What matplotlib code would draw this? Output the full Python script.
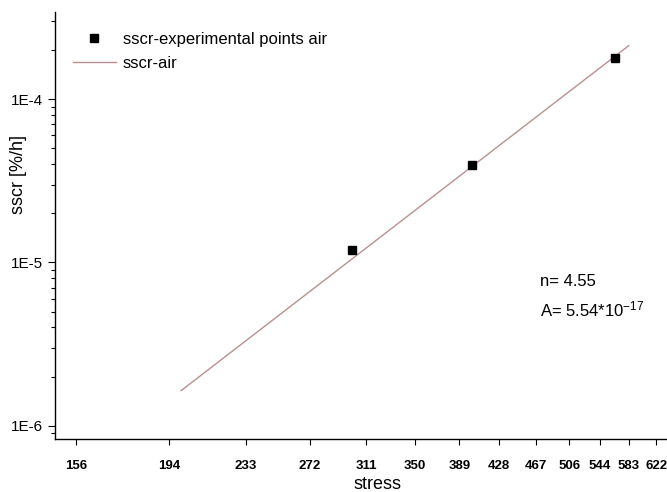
import matplotlib
matplotlib.use("Agg")
import matplotlib.pyplot as plt
import matplotlib.ticker as mticker
import numpy as np

plt.rcParams['font.family'] = ['Liberation Sans', 'DejaVu Sans']
plt.rcParams['mathtext.default'] = 'regular'

# measured points (stress, secondary creep rate)
exp_stress = [301, 401, 564]
exp_sscr = [1.2e-5, 3.98e-5, 1.8e-4]

# fitted power law line, end points
fit_stress = [200, 583]
fit_sscr = [1.64e-6, 2.13e-4]

# x tick values (stress axis)
xtick_vals = [155.6, 194.4, 233.3, 272.2, 311.1, 350.0, 388.9,
              427.8, 466.7, 505.6, 544.4, 583.3, 622.2]
xtick_labels = ["156", "194", "233", "272", "311", "350", "389",
                "428", "467", "506", "544", "583", "622"]
ytick_vals = [1e-6, 1e-5, 1e-4]
ytick_labels = ["1E-6", "1E-5", "1E-4"]

fig = plt.figure(figsize=(6.67, 4.92), dpi=100)
ax = fig.add_axes([55/667, 53/492, 645/667, 427/492])

ax.plot(fit_stress, fit_sscr, '-', color='#b89090', lw=1.0, label='sscr-air')
ax.plot(exp_stress, exp_sscr, 's', color='black', ms=6, ls='none',
        label='sscr-experimental points air')

ax.set_xscale('log')
ax.set_yscale('log')
ax.set_xlim(148, 691)
ax.set_ylim(8.3e-7, 3.42e-4)

ax.xaxis.set_major_locator(mticker.FixedLocator(xtick_vals))
ax.xaxis.set_major_formatter(mticker.FixedFormatter(xtick_labels))
ax.xaxis.set_minor_locator(mticker.NullLocator())
ax.yaxis.set_major_locator(mticker.FixedLocator(ytick_vals))
ax.yaxis.set_major_formatter(mticker.FixedFormatter(ytick_labels))
ax.yaxis.set_minor_locator(mticker.LogLocator(base=10, subs=np.arange(2, 10)))
ax.yaxis.set_minor_formatter(mticker.NullFormatter())

ax.tick_params(axis='x', which='major', direction='out', length=4, width=0.8,
               labelsize=9.5, pad=11)
ax.tick_params(axis='y', which='major', direction='out', length=5, width=0.8,
               labelsize=11)
ax.tick_params(axis='y', which='minor', direction='out', length=3, width=0.8)
for lab in ax.get_xticklabels():
    lab.set_fontweight('bold')

ax.spines['top'].set_visible(False)
ax.spines['right'].set_visible(False)
for s in ['left', 'bottom']:
    ax.spines[s].set_linewidth(1.0)

ax.set_xlabel('stress', fontsize=13, labelpad=3)
ax.set_ylabel('sscr [%/h]', fontsize=13)
ax.yaxis.set_label_coords(-0.043, 0.62)

handles, labels = ax.get_legend_handles_labels()
ax.legend(handles[::-1], labels[::-1], loc='upper left', frameon=False,
          bbox_to_anchor=(0.012, 0.977), fontsize=12, handlelength=2.6,
          handletextpad=0.4, labelspacing=0.55, borderaxespad=0.2)

ax.text(540/667, 1 - 282/492, 'n= 4.55', transform=fig.transFigure,
        fontsize=12, va='center', ha='left')
ax.text(540/667, 1 - 309/492, 'A= 5.54*10$^{-17}$', transform=fig.transFigure,
        fontsize=12, va='center', ha='left')

fig.savefig('out.png', dpi=100)
